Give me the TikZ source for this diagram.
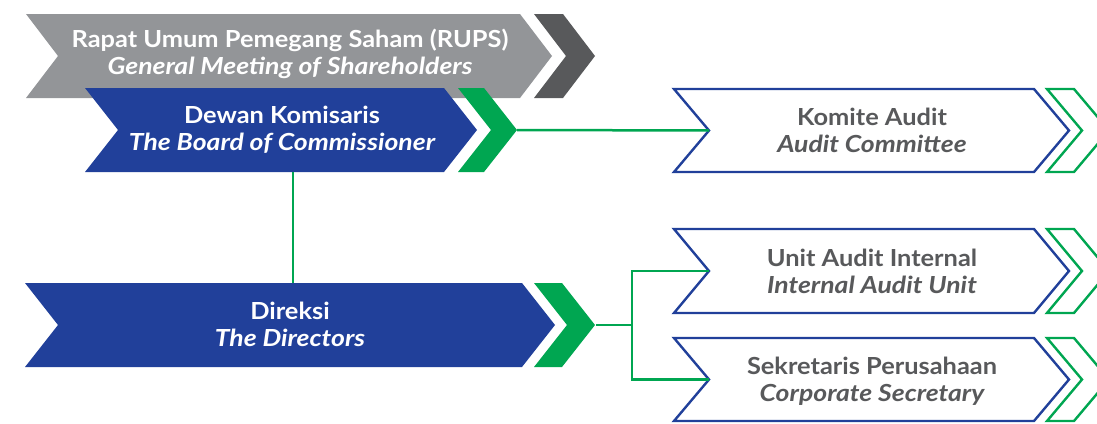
\documentclass[tikz,border=0pt]{standalone}
\usepackage{fontspec}
\setmainfont{Lato}[FakeStretch=1.08, ItalicFeatures={FakeStretch=1.13}, BoldItalicFeatures={FakeStretch=1.13}]
\definecolor{rgray}{HTML}{939598}
\definecolor{dgray}{HTML}{58595B}
\definecolor{rblue}{HTML}{21409A}
\definecolor{rgreen}{HTML}{00A651}
\definecolor{tgray}{HTML}{58595B}
% #1 style, #2 left x, #3 right x, #4 top y, #5 bottom y, #6 depth
\newcommand\chevshape[6]{\path[#1] (#2,#4) -- (#3,#4) -- ({#3+#6},{(#4+#5)/2}) -- (#3,#5) -- (#2,#5) -- ({#2+#6},{(#4+#5)/2}) -- cycle;}
\tikzset{
  lbl/.style={align=center, font=\fontsize{23.5}{27}\selectfont\bfseries, inner sep=0pt},
  wlbl/.style={lbl, text=white},
  glbl/.style={lbl, text=tgray},
  conn/.style={draw=rgreen, line width=2.5pt},
  outl/.style={draw=rblue, line width=2.4pt, fill=white, line join=miter},
  goutl/.style={draw=rgreen, line width=2.4pt, line join=miter},
}
\begin{document}
\begin{tikzpicture}[x=1pt,y=-1pt]
\useasboundingbox (0,0) rectangle (1097,423);
\begin{scope}
\clip (0,0) rectangle (1097,423);
% RUPS
\chevshape{fill=rgray}{26}{520}{14}{98}{32}
\chevshape{fill=dgray}{534}{563}{14}{98}{32}
% Dewan Komisaris
\chevshape{fill=rblue}{85}{444}{88}{172}{33}
\chevshape{fill=rgreen}{458}{484}{88}{172}{33}
% Direksi
\chevshape{fill=rblue}{25}{522}{283}{367}{33}
\chevshape{fill=rgreen}{534}{562}{283}{367}{33}
% right boxes
\chevshape{outl}{674}{1034}{89}{172}{35}
\chevshape{goutl}{1047}{1074}{89}{172}{35}
\chevshape{outl}{674}{1034}{229}{313}{35}
\chevshape{goutl}{1047}{1074}{229}{313}{35}
\chevshape{outl}{674}{1034}{338}{421}{35}
\chevshape{goutl}{1047}{1074}{338}{421}{35}
\end{scope}
% anchor coordinates
\coordinate (dkout) at (517,130);
\coordinate (dkbot) at (293,172);
\coordinate (dirtop) at (293,283);
\coordinate (dirout) at (596,325);
\coordinate (kain) at (709,130.5);
\coordinate (uain) at (709,271);
\coordinate (spin) at (709,379.5);
\coordinate (split) at (632,325);
% connectors
\draw[conn] (dkout) -- (kain);
\draw[conn] (dkbot) -- (dirtop);
\draw[conn] (dirout) -- (split);
\draw[conn] (split) |- (uain);
\draw[conn] (split) |- (spin);
% labels
\node[wlbl] (rups) at (290,54) {Rapat Umum Pemegang Saham (RUPS)\\\itshape General Meeting of Shareholders};
\node[wlbl] (dk) at (282,130) {Dewan Komisaris\\\itshape The Board of Commissioner};
\node[wlbl] (dir) at (290,324) {Direksi\\\itshape The Directors};
\node[glbl] (ka) at (872,130) {Komite Audit\\\itshape Audit Committee};
\node[glbl] (ua) at (872,271) {Unit Audit Internal\\\itshape Internal Audit Unit};
\node[glbl] (sp) at (872,381) {Sekretaris Perusahaan\\\itshape Corporate Secretary};
\end{tikzpicture}
\end{document}
